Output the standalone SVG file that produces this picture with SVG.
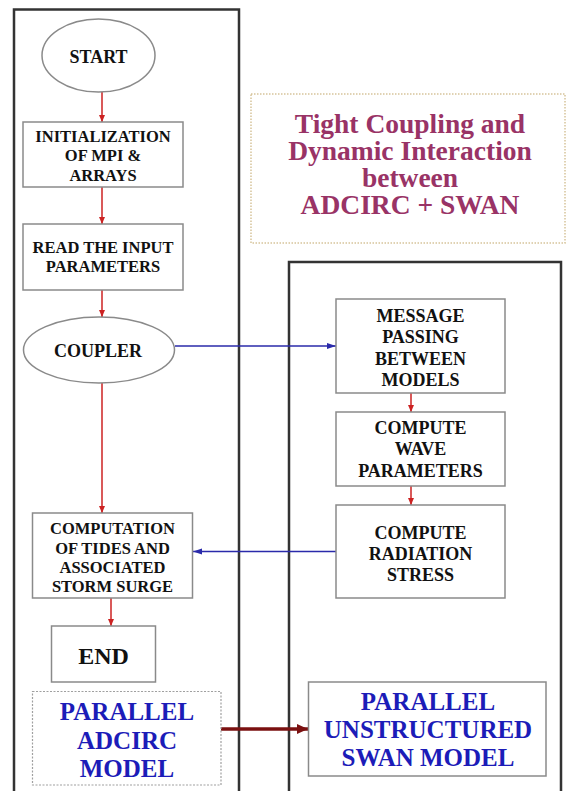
<svg xmlns="http://www.w3.org/2000/svg" width="567" height="791" viewBox="0 0 567 791">
<style>
text{font-family:"Liberation Serif","Times New Roman",serif;font-weight:bold;text-anchor:middle}
.n{font-size:16.5px;fill:#111}
.r{font-size:18px;fill:#111}
.blue{font-size:25px;fill:#1c1cb8}
.title{font-size:27.5px;fill:#993366}
.box{fill:#fff;stroke:#8a8a8a;stroke-width:1.5}
.panel{fill:none;stroke:#333;stroke-width:2.5}
.red{stroke:#cc2222;stroke-width:1.5;fill:none;marker-end:url(#ar)}
.bl{stroke:#2a2aaa;stroke-width:1.5;fill:none;marker-end:url(#ab)}
.dr{stroke:#7a1010;stroke-width:3.5;fill:none;marker-end:url(#ad)}
</style>
<defs>
<marker id="ar" markerWidth="8" markerHeight="8" refX="7" refY="4" orient="auto" markerUnits="userSpaceOnUse"><path d="M0,1 L7,4 L0,7 z" fill="#cc2222"/></marker>
<marker id="ab" markerWidth="10" markerHeight="8" refX="9" refY="4" orient="auto" markerUnits="userSpaceOnUse"><path d="M0,1 L9,4 L0,7 z" fill="#2a2aaa"/></marker>
<marker id="ad" markerWidth="12" markerHeight="12" refX="11" refY="6" orient="auto" markerUnits="userSpaceOnUse"><path d="M0,1 L11,6 L0,11 z" fill="#7a1010"/></marker>
</defs>
<rect width="567" height="791" fill="#fff"/>
<g id="panels">
<path class="panel" d="M14,795 V9.5 H239 V795"/>
<path class="panel" d="M289,795 V262 H561 V795"/>
</g>
<g id="title">
<rect x="251" y="94" width="314" height="149" fill="none" stroke="#d6c49a" stroke-width="1.5" stroke-dasharray="1.5,1.5"/>
<text class="title" x="410" y="133">Tight Coupling and</text>
<text class="title" x="410" y="160">Dynamic Interaction</text>
<text class="title" x="410" y="187">between</text>
<text class="title" x="410" y="214">ADCIRC + SWAN</text>
</g>
<g id="connectors">
<line class="red" x1="102" y1="92" x2="102" y2="122"/>
<line class="red" x1="102" y1="187" x2="102" y2="224"/>
<line class="red" x1="102" y1="290" x2="102" y2="317"/>
<line class="red" x1="102" y1="383" x2="102" y2="513"/>
<line class="red" x1="111" y1="598" x2="111" y2="626"/>
<line class="red" x1="411" y1="393" x2="411" y2="412"/>
<line class="red" x1="411" y1="486" x2="411" y2="505"/>
<line class="bl" x1="175" y1="346" x2="336" y2="346"/>
<line class="bl" x1="336" y1="551.5" x2="193" y2="551.5"/>
<line class="dr" x1="221" y1="729" x2="308" y2="729"/>
</g>
<g id="start">
<ellipse class="box" cx="98.5" cy="55.5" rx="56.5" ry="36.5"/>
<text class="r" x="98.5" y="63">START</text>
</g>
<g id="init">
<rect class="box" x="23" y="122" width="160" height="65"/>
<text class="n" x="103" y="141.5">INITIALIZATION</text>
<text class="n" x="103" y="161">OF MPI &amp;</text>
<text class="n" x="103" y="180.5">ARRAYS</text>
</g>
<g id="read">
<rect class="box" x="23" y="224" width="160" height="66"/>
<text class="n" x="103" y="253">READ THE INPUT</text>
<text class="n" x="103" y="272">PARAMETERS</text>
</g>
<g id="coupler">
<ellipse class="box" cx="99" cy="350" rx="75.5" ry="33"/>
<text class="r" x="98" y="357">COUPLER</text>
</g>
<g id="computation">
<rect class="box" x="32.5" y="513" width="160" height="85"/>
<text class="n" x="112.5" y="534">COMPUTATION</text>
<text class="n" x="112.5" y="553.5">OF TIDES AND</text>
<text class="n" x="112.5" y="573">ASSOCIATED</text>
<text class="n" x="112.5" y="592">STORM SURGE</text>
</g>
<g id="end">
<rect class="box" x="51.5" y="626" width="104" height="56"/>
<text x="103.5" y="664" style="font-size:24px;fill:#111">END</text>
</g>
<g id="adcirc">
<rect x="32.5" y="691.5" width="188.5" height="93.5" fill="#fff" stroke="#a0a0a0" stroke-width="1.2" stroke-dasharray="2,1.5"/>
<text class="blue" x="127" y="720">PARALLEL</text>
<text class="blue" x="127" y="748.5">ADCIRC</text>
<text class="blue" x="127" y="776.5">MODEL</text>
</g>
<g id="message">
<rect class="box" x="336" y="299" width="169" height="94"/>
<text class="r" x="420.5" y="321.5">MESSAGE</text>
<text class="r" x="420.5" y="343">PASSING</text>
<text class="r" x="420.5" y="364.5">BETWEEN</text>
<text class="r" x="420.5" y="386">MODELS</text>
</g>
<g id="wave">
<rect class="box" x="336" y="412" width="169" height="74"/>
<text class="r" x="420.5" y="433.5">COMPUTE</text>
<text class="r" x="420.5" y="455">WAVE</text>
<text class="r" x="420.5" y="476.5">PARAMETERS</text>
</g>
<g id="radiation">
<rect class="box" x="336" y="505" width="169" height="93"/>
<text class="r" x="420.5" y="538.5">COMPUTE</text>
<text class="r" x="420.5" y="559.5">RADIATION</text>
<text class="r" x="420.5" y="580.5">STRESS</text>
</g>
<g id="swan">
<rect class="box" x="308.5" y="682" width="237.5" height="94"/>
<text class="blue" x="428" y="710">PARALLEL</text>
<text class="blue" x="428" y="738">UNSTRUCTURED</text>
<text class="blue" x="428" y="766">SWAN MODEL</text>
</g>
</svg>
